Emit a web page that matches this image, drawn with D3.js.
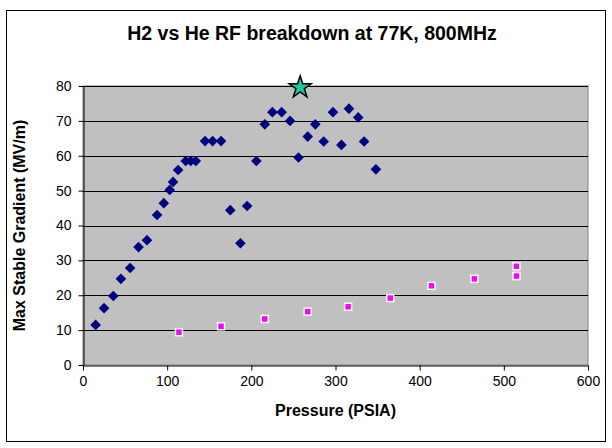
<!DOCTYPE html>
<html>
<head>
<meta charset="utf-8">
<script src="https://cdn.jsdelivr.net/npm/d3@7"></script>
<style>
  body { margin: 0; background: #fff; }
  svg { display: block; font-family: "Liberation Sans", Arial, sans-serif; }
</style>
</head>
<body>
<div id="chart"></div>
<script>
// H2 data (navy diamonds)
const h2Pressure = [15, 25, 36, 45, 56, 66, 76, 88, 96, 103, 107, 113, 122, 128, 134,
  145, 154, 164, 175, 187, 195, 206, 216, 225, 236, 246, 256, 267, 276, 286, 297, 307,
  316, 327, 334, 348];
const h2Gradient = [11.5, 16.3, 19.8, 24.7, 27.8, 33.8, 35.8, 43.0, 46.4, 50.2, 52.5, 55.9,
  58.5, 58.5, 58.5, 64.2, 64.2, 64.2, 44.4, 34.9, 45.6, 58.5, 69.0, 72.5, 72.5, 70.0,
  59.5, 65.5, 69.0, 64.1, 72.5, 63.1, 73.5, 71.0, 64.1, 56.1];

// He data (magenta squares)
const hePressure = [114, 164, 216, 267, 315, 365, 414, 465, 515, 515];
const heGradient = [9.4, 11.1, 13.2, 15.3, 16.7, 19.2, 22.7, 24.7, 28.3, 25.5];

// highlighted point (star)
const starPressure = [258];
const starGradient = [79.6];

const xTicks = [0, 100, 200, 300, 400, 500, 600];
const yTicks = [0, 10, 20, 30, 40, 50, 60, 70, 80];

const width = 612, height = 448;
const margin = {left: 83, right: 24, top: 86, bottom: 83};

const svg = d3.select('#chart').append('svg')
  .attr('width', width)
  .attr('height', height);

// chart frame
svg.append('rect')
  .attr('x', 6.5).attr('y', 10.5)
  .attr('width', 599).attr('height', 431)
  .attr('fill', '#fff').attr('stroke', '#000').attr('stroke-width', 1);

const x = d3.scaleLinear().domain([0, 600]).range([margin.left, width - margin.right]);
const y = d3.scaleLinear().domain([0, 80]).range([height - margin.bottom, margin.top]);

// plot area
svg.append('rect')
  .attr('x', x(0)).attr('y', y(80))
  .attr('width', x(600) - x(0)).attr('height', y(0) - y(80))
  .attr('fill', '#c0c0c0').attr('stroke', '#808080');

// gridlines
svg.append('g')
  .selectAll('line')
  .data(yTicks.filter(d => d > 0))
  .enter().append('line')
    .attr('x1', x(0)).attr('x2', x(600))
    .attr('y1', d => Math.round(y(d)) + 0.5).attr('y2', d => Math.round(y(d)) + 0.5)
    .attr('stroke', '#000').attr('stroke-width', 1);

// axes
const xAxis = d3.axisBottom(x).tickValues(xTicks).tickSize(5).tickSizeOuter(0).tickPadding(6);
const yAxis = d3.axisLeft(y).tickValues(yTicks).tickSize(5).tickSizeOuter(0).tickPadding(7);

const gx = svg.append('g')
  .attr('transform', `translate(0, ${Math.round(y(0)) + 0.5})`)
  .call(xAxis);
const gy = svg.append('g')
  .attr('transform', `translate(${Math.round(x(0)) + 0.5}, 0)`)
  .call(yAxis);

[gx, gy].forEach(g => {
  g.selectAll('path, line').attr('stroke', '#000');
  g.selectAll('text')
    .attr('font-family', '"Liberation Sans", Arial, sans-serif')
    .attr('font-size', 14)
    .attr('fill', '#000');
});

// series
svg.append('g')
  .selectAll('path')
  .data(h2Pressure.map((p, i) => [p, h2Gradient[i]]))
  .enter().append('path')
    .attr('d', d3.symbol().type(d3.symbolDiamond2).size(72))
    .attr('transform', d => `translate(${x(d[0])}, ${y(d[1])})`)
    .attr('fill', '#000080');

svg.append('g')
  .selectAll('rect')
  .data(hePressure.map((p, i) => [p, heGradient[i]]))
  .enter().append('rect')
    .attr('x', d => x(d[0]) - 3.5).attr('y', d => y(d[1]) - 3.5)
    .attr('width', 7).attr('height', 7)
    .attr('fill', '#ff00ff').attr('stroke', '#fff').attr('stroke-width', 1.5);

svg.append('g')
  .selectAll('path')
  .data(starPressure.map((p, i) => [p, starGradient[i]]))
  .enter().append('path')
    .attr('d', d3.symbol().type(d3.symbolStar).size(150))
    .attr('transform', d => `translate(${x(d[0])}, ${y(d[1])})`)
    .attr('fill', '#1fc69a').attr('stroke', '#000').attr('stroke-width', 1.5);

// titles
svg.append('text')
  .attr('x', 312).attr('y', 40)
  .attr('text-anchor', 'middle')
  .attr('font-size', 19.5).attr('font-weight', 'bold')
  .text('H2 vs He RF breakdown at 77K, 800MHz');

svg.append('text')
  .attr('x', (x(0) + x(600)) / 2).attr('y', 416)
  .attr('text-anchor', 'middle')
  .attr('font-size', 16).attr('font-weight', 'bold')
  .text('Pressure (PSIA)');

svg.append('text')
  .attr('transform', `translate(25, ${(y(0) + y(80)) / 2}) rotate(-90)`)
  .attr('text-anchor', 'middle')
  .attr('font-size', 16).attr('font-weight', 'bold')
  .text('Max Stable Gradient (MV/m)');
</script>
</body>
</html>
